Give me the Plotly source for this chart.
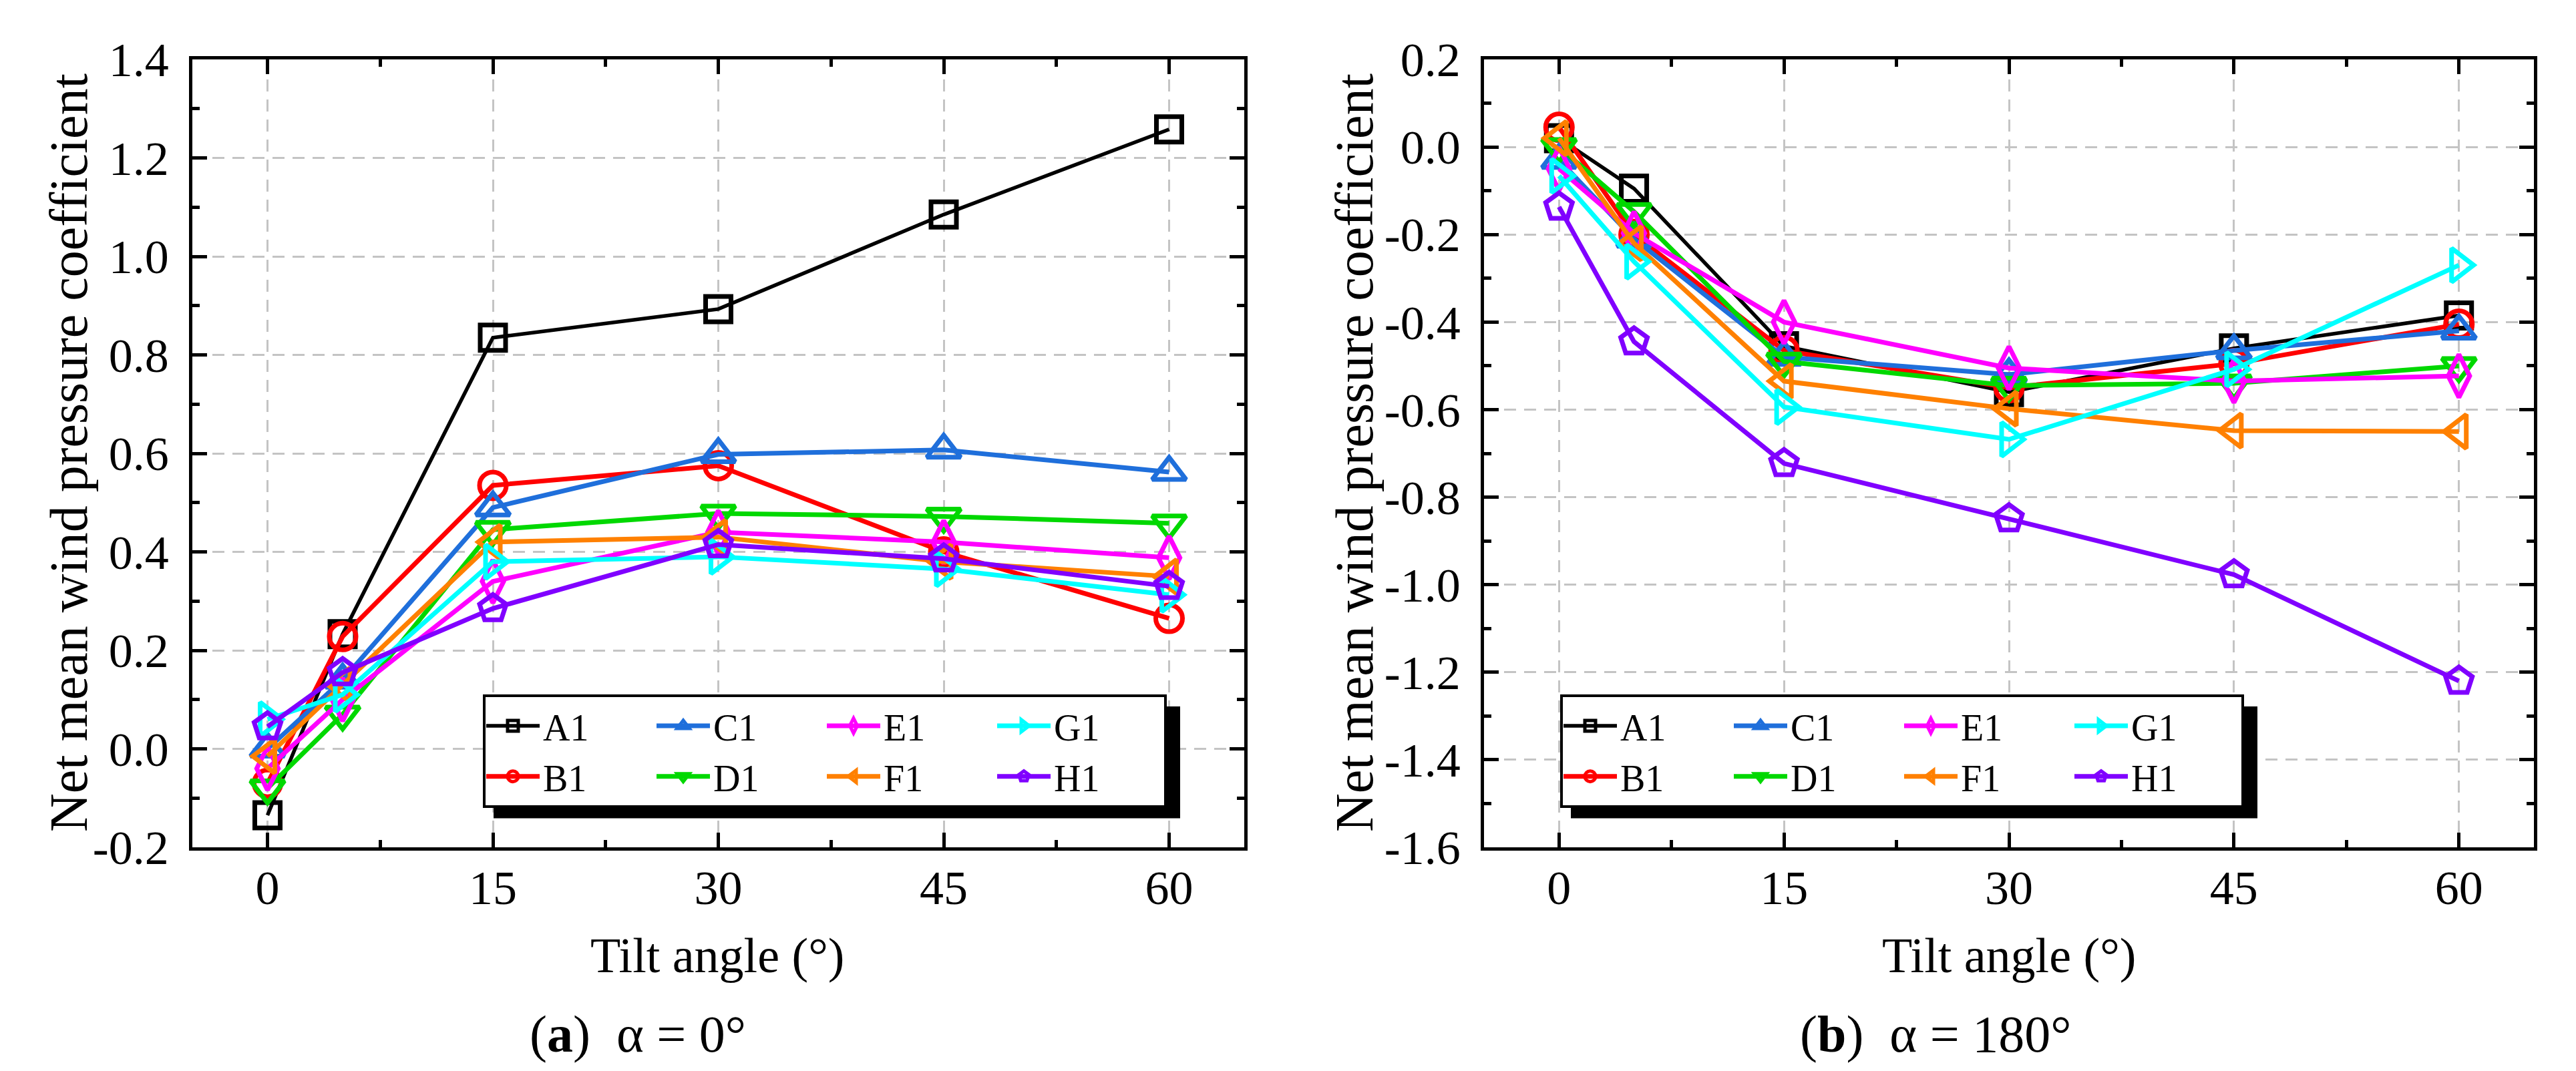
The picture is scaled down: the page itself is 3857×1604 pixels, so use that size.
import plotly.graph_objects as go

# tilt angles (deg)
tilt = [0, 5, 15, 30, 45, 60]
names = ["A1", "B1", "C1", "D1", "E1", "F1", "G1", "H1"]

# alpha = 0 deg
a0_A1 = [-0.135, 0.233, 0.835, 0.893, 1.085, 1.258]
a0_B1 = [-0.07, 0.228, 0.535, 0.575, 0.40, 0.265]
a0_C1 = [0.0, 0.14, 0.49, 0.598, 0.607, 0.562]
a0_D1 = [-0.08, 0.07, 0.445, 0.478, 0.472, 0.458]
a0_E1 = [-0.04, 0.10, 0.34, 0.44, 0.42, 0.388]
a0_F1 = [-0.015, 0.13, 0.42, 0.43, 0.38, 0.35]
a0_G1 = [0.06, 0.11, 0.38, 0.39, 0.365, 0.313]
a0_H1 = [0.045, 0.155, 0.285, 0.415, 0.386, 0.33]

# alpha = 180 deg
a180_A1 = [0.02, -0.095, -0.455, -0.56, -0.46, -0.385]
a180_B1 = [0.045, -0.20, -0.465, -0.55, -0.495, -0.405]
a180_C1 = [-0.03, -0.21, -0.48, -0.52, -0.465, -0.42]
a180_D1 = [0.0, -0.148, -0.49, -0.545, -0.54, -0.50]
a180_E1 = [-0.05, -0.197, -0.40, -0.505, -0.535, -0.523]
a180_F1 = [0.02, -0.22, -0.535, -0.598, -0.648, -0.65]
a180_G1 = [-0.066, -0.262, -0.594, -0.668, -0.508, -0.27]
a180_H1 = [-0.137, -0.445, -0.723, -0.849, -0.977, -1.22]

x_ticks = [0, 15, 30, 45, 60]
y0_ticks = [-0.2, 0.0, 0.2, 0.4, 0.6, 0.8, 1.0, 1.2, 1.4]
y0_labels = ["-0.2", "0.0", "0.2", "0.4", "0.6", "0.8", "1.0", "1.2", "1.4"]
y180_ticks = [-1.6, -1.4, -1.2, -1.0, -0.8, -0.6, -0.4, -0.2, 0.0, 0.2]
y180_labels = ["-1.6", "-1.4", "-1.2", "-1.0", "-0.8", "-0.6", "-0.4", "-0.2", "0.0", "0.2"]

series0 = [a0_A1, a0_B1, a0_C1, a0_D1, a0_E1, a0_F1, a0_G1, a0_H1]
series180 = [a180_A1, a180_B1, a180_C1, a180_D1, a180_E1, a180_F1, a180_G1, a180_H1]

colors = ["#000000", "#FF0000", "#1F6FDB", "#00D800", "#FF00FF", "#FF8000", "#00FFFF", "#8000FF"]
symbols = ["square-open", "circle-open", "triangle-up-open", "triangle-down-open",
           "diamond-tall-open", "triangle-left-open", "triangle-right-open", "pentagon-open"]
sizes = [38, 40, 44, 44, 46, 44, 44, 42]
widths = [5.5, 7, 7, 7, 7, 7, 7, 7]
groups = ["1", "1", "2", "2", "3", "3", "4", "4"]

FONT = "Liberation Serif"
W, H = 3857, 1604

fig = go.Figure()

for i, n in enumerate(names):
    fig.add_trace(go.Scatter(
        x=tilt, y=series0[i], name=n, mode="lines+markers",
        line=dict(color=colors[i], width=widths[i]),
        marker=dict(symbol=symbols[i], size=sizes[i], color=colors[i], line=dict(width=7, color=colors[i])),
        legend="legend", legendgroup="L" + groups[i],
        xaxis="x", yaxis="y"))
for i, n in enumerate(names):
    fig.add_trace(go.Scatter(
        x=tilt, y=series180[i], name=n, mode="lines+markers",
        line=dict(color=colors[i], width=widths[i]),
        marker=dict(symbol=symbols[i], size=sizes[i], color=colors[i], line=dict(width=7, color=colors[i])),
        legend="legend2", legendgroup="R" + groups[i],
        xaxis="x2", yaxis="y2"))

def px_x(p):
    return p / W

def px_y(p):
    return 1 - p / H

axis_common = dict(
    showline=True, linecolor="black", linewidth=4.5, mirror="ticks",
    ticks="inside", ticklen=22, tickwidth=4.5, tickcolor="black",
    showgrid=True, gridcolor="#C4C4C4", gridwidth=2.5, griddash="18px,12px",
    zeroline=False, automargin=False,
    tickfont=dict(family=FONT, size=72, color="black"),
)

xaxis_common = dict(axis_common, range=[-5, 65], tickvals=x_ticks, ticklabelstandoff=-6,
                    minor=dict(ticks="inside", ticklen=11, tickwidth=4.5, dtick=7.5, tick0=0,
                               tickcolor="black", showgrid=False))
yminor = dict(ticks="inside", ticklen=11, tickwidth=4.5, dtick=0.1, tick0=0, tickcolor="black", showgrid=False)

LEG_FONT = 56
legend_common = dict(xanchor="left", yanchor="top",
                     orientation="h", traceorder="grouped", itemwidth=80,
                     entrywidth=160, entrywidthmode="pixels",
                     bgcolor="white", bordercolor="black", borderwidth=4,
                     font=dict(family=FONT, size=LEG_FONT, color="black"))

fig.update_layout(
    width=W, height=H, autosize=False,
    margin=dict(l=0, r=0, t=0, b=0),
    paper_bgcolor="white", plot_bgcolor="white",
    font=dict(family=FONT, color="black"),
    xaxis=dict(xaxis_common, domain=[px_x(280), px_x(1855)], anchor="y"),
    xaxis2=dict(xaxis_common, domain=[px_x(2214), px_x(3786)], anchor="y2"),
    yaxis=dict(axis_common, domain=[px_y(1261), px_y(81)], anchor="x", range=[-0.2, 1.4],
               tickvals=y0_ticks, ticktext=y0_labels, ticklabelstandoff=16, minor=yminor),
    yaxis2=dict(axis_common, domain=[px_y(1261), px_y(81)], anchor="x2", range=[-1.6, 0.2],
                tickvals=y180_ticks, ticktext=y180_labels, ticklabelstandoff=16, minor=yminor),
    legend=dict(legend_common, x=px_x(715), y=px_y(1032)),
    legend2=dict(legend_common, x=px_x(2328), y=px_y(1032)),
    showlegend=True,
)

# legend drop shadows (offset down-right behind the legend boxes)
leg_w = 4 * (80 + 10 + 160 + 7)
leg_h = 2 * LEG_FONT * 1.3 + 22
for lx0 in [715, 2328]:
    fig.add_shape(type="rect", xref="paper", yref="paper",
                  x0=px_x(lx0 + 16), x1=px_x(lx0 + leg_w + 16),
                  y0=px_y(1032 + leg_h + 18), y1=px_y(1032 + 18),
                  fillcolor="black", line=dict(width=0), layer="above")

# axis titles
for xc in [1066, 3000]:
    fig.add_annotation(text="Tilt angle (°)", x=px_x(xc), y=px_y(1423), xref="paper", yref="paper",
                       xanchor="center", yanchor="middle", showarrow=False,
                       font=dict(family=FONT, size=74, color="black"))
for xc in [95, 2020]:
    fig.add_annotation(text="Net mean wind pressure coefficient", x=px_x(xc), y=px_y(670),
                       xref="paper", yref="paper", xanchor="center", yanchor="middle",
                       textangle=-90, showarrow=False,
                       font=dict(family=FONT, size=80, color="black"))

# panel captions
fig.add_annotation(text="(<b>a</b>)\u00a0\u00a0α = 0°", x=px_x(947), y=px_y(1540), xref="paper", yref="paper",
                   xanchor="center", yanchor="middle", showarrow=False,
                   font=dict(family=FONT, size=78, color="black"))
fig.add_annotation(text="(<b>b</b>)\u00a0\u00a0α = 180°", x=px_x(2890), y=px_y(1540), xref="paper", yref="paper",
                   xanchor="center", yanchor="middle", showarrow=False,
                   font=dict(family=FONT, size=78, color="black"))

fig.write_html("out.html")
